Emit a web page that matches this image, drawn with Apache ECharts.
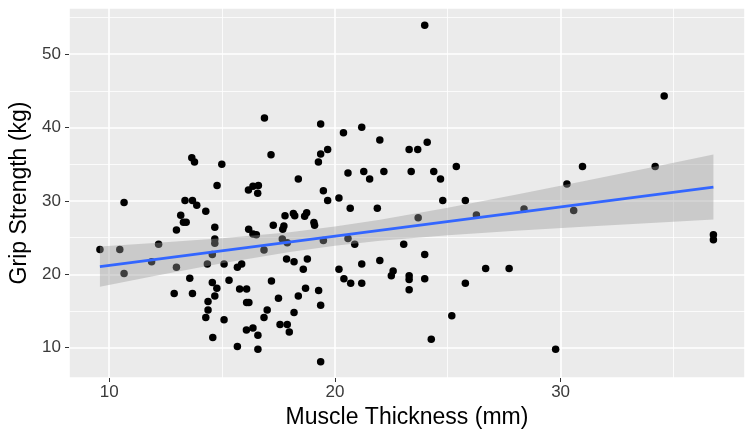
<!DOCTYPE html>
<html>
<head>
<meta charset="utf-8">
<script src="https://cdn.jsdelivr.net/npm/echarts@6/dist/echarts.min.js"></script>
<style>
html,body{margin:0;padding:0;background:#fff;}
#chart{width:750px;height:439px;}
</style>
</head>
<body>
<div id="chart"></div>
<script>
// Muscle thickness (mm) for each subject
const muscleThickness = [
  9.59, 10.47, 10.66, 10.66, 11.88, 12.19, 12.88, 12.98, 12.98, 13.17,
  13.29, 13.41, 13.36, 13.69, 13.88, 13.57, 13.69, 13.66, 13.78, 14.28,
  14.28, 14.35, 14.38, 14.38, 14.57, 14.57, 14.59, 14.68, 14.68, 14.68,
  14.68, 14.77, 14.78, 14.99, 15.09, 15.09, 15.31, 15.68, 15.87, 15.68,
  15.78, 16.09, 16.09, 16.19, 16.08, 16.37, 16.59, 16.59, 16.17, 16.37,
  16.61, 16.58, 16.18, 16.37, 16.52, 16.86, 16.86, 16.88, 17.00, 17.17,
  17.19, 17.27, 17.50, 17.57, 17.67, 17.69, 17.74, 17.79, 17.86, 17.89,
  17.89, 17.98, 18.16, 18.22, 18.19, 18.19, 18.38, 18.38, 18.60, 18.66,
  18.75, 18.70, 18.78, 19.07, 19.10, 19.27, 19.28, 19.37, 19.37, 19.37,
  19.37, 19.49, 19.49, 19.68, 19.68, 20.18, 20.18, 20.38, 20.40, 20.58,
  20.58, 20.68, 20.70, 20.88, 21.19, 21.19, 21.19, 21.28, 21.54, 21.88,
  21.99, 21.99, 22.17, 22.50, 22.58, 23.05, 23.29, 23.29, 23.29, 23.29,
  23.38, 23.67, 23.69, 23.98, 23.98, 23.98, 24.09, 24.27, 24.38, 24.68,
  24.78, 25.18, 25.38, 25.78, 25.78, 26.27, 26.68, 27.72, 28.38, 29.78,
  30.28, 30.58, 30.97, 34.19, 34.59, 36.77, 36.77
];
// Grip strength (kg) for each subject
const gripStrength = [
  23.4, 23.4, 29.8, 20.1, 21.7, 24.1, 17.4, 26.05, 20.95, 28.05,
  27.1, 27.1, 30.05, 30.05, 29.4, 19.45, 17.4, 35.9, 35.3, 28.6,
  14.1, 21.4, 16.3, 15.15, 22.7, 18.9, 11.4, 26.4, 24.8, 24.25,
  17.05, 18.1, 32.1, 35.0, 21.4, 13.8, 19.2, 20.95, 21.4, 10.15,
  18.0, 18.0, 16.15, 16.15, 12.4, 12.7, 11.7, 9.8, 31.5, 32.0,
  32.1, 31.05, 26.15, 25.5, 25.4, 23.3, 14.1, 41.3, 15.15, 36.3,
  19.1, 26.7, 16.75, 13.15, 24.8, 26.15, 26.6, 28.0, 22.1, 24.3,
  13.15, 12.15, 28.3, 28.0, 21.7, 14.8, 33.0, 17.05, 20.7, 27.9,
  28.4, 18.1, 22.1, 27.05, 26.7, 35.3, 17.8, 36.4, 40.5, 15.8,
  8.1, 31.4, 24.6, 37.0, 30.05, 30.4, 20.7, 39.3, 19.4, 33.8,
  24.9, 29.0, 18.8, 24.1, 40.05, 21.4, 18.8, 34.0, 33.0, 29.0,
  38.3, 21.9, 34.0, 19.8, 20.45, 24.1, 37.0, 19.8, 19.3, 17.9,
  34.0, 37.0, 27.7, 53.95, 22.7, 19.4, 38.0, 11.15, 34.0, 33.0,
  30.05, 14.35, 34.7, 30.05, 18.8, 28.1, 20.8, 20.8, 28.9, 9.8,
  32.3, 28.7, 34.7, 34.7, 44.3, 25.4, 24.7
];
// Linear fit: endpoints
const fitX = [9.59, 36.77];
const fitY = [21.05, 31.89];
// Confidence band
const bandX = [9.59, 12, 15, 18, 20, 22, 25, 28, 31, 34, 36.77];
const bandUpper = [23.80, 24.26, 24.91, 25.75, 26.51, 27.44, 29.07, 30.85, 32.69, 34.57, 36.32];
const bandLower = [18.30, 19.76, 21.51, 23.05, 23.89, 24.56, 25.33, 25.93, 26.49, 27.01, 27.46];

const xTitle = 'Muscle Thickness (mm)';
const yTitle = 'Grip Strength (kg)';

const FONT = '"Liberation Sans", Arial, sans-serif';
const chart = echarts.init(document.getElementById('chart'), null, {renderer: 'canvas'});

const scatterData = muscleThickness.map((x, i) => [x, gripStrength[i]]);
const fitData = fitX.map((x, i) => [x, fitY[i]]);
const bandData = bandX.map((x, i) => [x, bandUpper[i], bandLower[i]]);

const axisCommon = {
  type: 'value',
  axisLine: {show: false},
  axisTick: {show: true, length: 4, lineStyle: {color: '#333333', width: 1}},
  minorTick: {show: false, splitNumber: 2},
  splitLine: {show: true, lineStyle: {color: '#ffffff', width: 1.6}},
  minorSplitLine: {show: true, lineStyle: {color: '#ffffff', width: 0.8}},
  nameLocation: 'middle',
  nameTextStyle: {color: '#000000', fontSize: 23, fontFamily: FONT}
};

chart.setOption({
  animation: false,
  backgroundColor: '#ffffff',
  grid: {left: 68, right: 5, top: 8, bottom: 61, show: true, backgroundColor: '#ebebeb', borderWidth: 0},
  xAxis: Object.assign({}, axisCommon, {
    min: 8.22, max: 38.17, splitNumber: 3,
    name: xTitle, nameGap: 25,
    axisLabel: {color: '#3a3a3a', fontSize: 17, fontFamily: FONT, margin: 6, showMinLabel: false, showMaxLabel: false}
  }),
  yAxis: Object.assign({}, axisCommon, {
    min: 5.87, max: 56.3, splitNumber: 5,
    name: yTitle, nameGap: 38,
    axisLabel: {color: '#3a3a3a', fontSize: 17, fontFamily: FONT, margin: 8, showMinLabel: false, showMaxLabel: false}
  }),
  series: [
    {
      type: 'scatter', data: scatterData, symbolSize: 7.5, z: 2,
      itemStyle: {color: '#000000', opacity: 1}, silent: true
    },
    {
      type: 'custom', data: bandData, z: 3, silent: true,
      encode: {x: 0, y: [1, 2]},
      renderItem: function (params, api) {
        if (params.dataIndex !== 0) return null;
        const pts = [];
        for (let i = 0; i < bandX.length; i++) pts.push(api.coord([bandX[i], bandUpper[i]]));
        for (let i = bandX.length - 1; i >= 0; i--) pts.push(api.coord([bandX[i], bandLower[i]]));
        return {type: 'polygon', shape: {points: pts}, style: {fill: 'rgba(153,153,153,0.4)', stroke: null}};
      }
    },
    {
      type: 'line', data: fitData, z: 4, showSymbol: false, silent: true,
      lineStyle: {color: '#3366FF', width: 2.6}
    }
  ]
});
</script>
</body>
</html>
